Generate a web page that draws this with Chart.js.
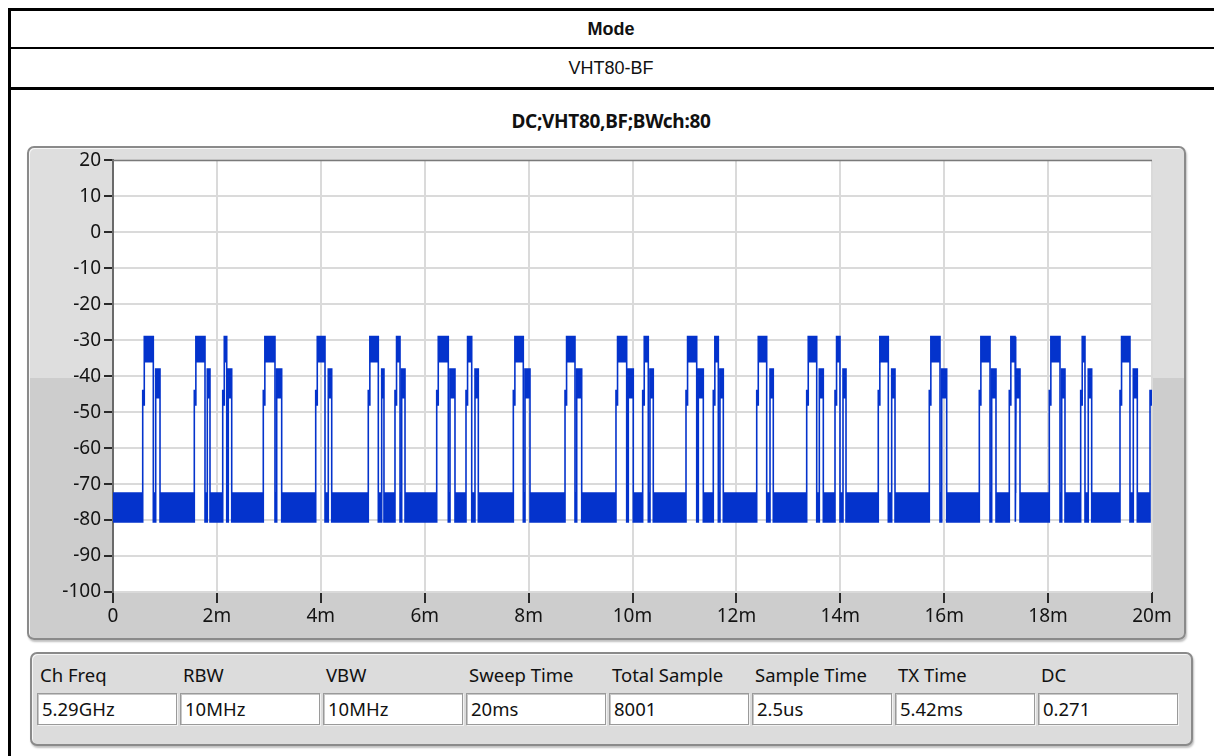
<!DOCTYPE html>
<html>
<head>
<meta charset="utf-8">
<script src="https://cdn.jsdelivr.net/npm/chart.js@4.4.0/dist/chart.umd.min.js"></script>
<style>
  html, body { margin: 0; padding: 0; background: #fff; }
  body { width: 1214px; height: 756px; position: relative; overflow: hidden; font-family: 'Noto Sans', sans-serif; color: #111; }
  .frame { position: absolute; left: 8px; top: 8px; width: 1230px; height: 770px; border-left: 3px solid #000; border-top: 3px solid #000; }
  .hline { position: absolute; left: 8px; width: 1220px; background: #000; }
  .cell { position: absolute; left: 11px; width: 1200px; text-align: center; font-family: 'Liberation Sans', Arial, sans-serif; font-size: 18px; }
  .title { position: absolute; left: 11px; width: 1200px; top: 109px; height: 24px; line-height: 24px; text-align: center; font-weight: bold; font-size: 19px; letter-spacing: -0.3px; }
  .panel { position: absolute; box-sizing: border-box; border: 2px solid #8a8a8a; border-radius: 7px; box-shadow: 1px 2px 2px rgba(0,0,0,.25), inset 1px 1px 0 #f6f6f6; }
  #graph { left: 27px; top: 146px; width: 1159px; height: 494px; background: linear-gradient(#dedede 0, #dedede 230px, #cdcdcd 230px); }
  #chartBox { position: absolute; left: 27px; top: 146px; width: 1159px; height: 494px; }
  #stats { left: 30px; top: 652px; width: 1163px; height: 94px; background: #dcdcdc; }
  .lbl { position: absolute; top: 662px; font-size: 18.5px; line-height: 26px; color: #111; }
  .box { position: absolute; top: 693px; width: 140px; height: 32px; box-sizing: border-box; background: #fff; border: 1px solid #9a9a9a; box-shadow: inset 1px 1px 0 #c8c8c8, 1px 1px 0 #f2f2f2; font-size: 18.5px; line-height: 30px; padding-left: 4px; color: #111; }
</style>
</head>
<body>
<div class="frame"></div>
<div class="hline" style="top:47px;height:2px"></div>
<div class="hline" style="top:87px;height:3px"></div>
<div class="cell" style="top:11px;height:37px;line-height:37px;font-weight:bold">Mode</div>
<div class="cell" style="top:50px;height:37px;line-height:37px">VHT80-BF</div>
<div class="title">DC;VHT80,BF;BWch:80</div>

<div class="panel" id="graph"></div>
<div id="chartBox"><canvas id="chartDC" width="1159" height="494"></canvas></div>
<div class="panel" id="stats"></div>

<script>
// bursts, times in ms
const burstRise = [0.572, 1.565, 2.112, 2.893, 3.902, 4.914, 5.428, 6.231, 6.795, 7.706, 8.701, 9.682, 10.196,
    11.030, 11.555, 12.391, 13.353, 13.898, 14.731, 15.713, 16.676, 17.253, 18.023, 18.627, 19.384]
const burstFall = [0.776, 1.771, 2.189, 3.118, 4.081, 5.107, 5.525, 6.454, 6.905, 7.898, 8.893, 9.888, 10.304,
    11.236, 11.652, 12.583, 13.546, 13.994, 14.924, 15.919, 16.882, 17.363, 18.229, 18.710, 19.576]
const ackStart = [0.822, 1.815, 2.219, 3.151, 4.144, 5.172, 5.557, 6.487, 6.968, 7.931, 8.926, 9.919, 10.337,
    11.267, 11.684, 12.647, 13.596, 14.052, 14.989, 15.952, 16.914, 17.382, 18.262, 18.773, 19.640]
const ackEnd = [0.905, 1.867, 2.285, 3.247, 4.210, 5.216, 5.621, 6.583, 7.032, 8.027, 9.022, 10.015, 10.400,
    11.363, 11.748, 12.710, 13.673, 14.110, 15.053, 16.048, 16.997, 17.459, 18.325, 18.839, 19.717]
const preambleTime = 0.03
const tailRise = 19.962
const sweepEnd = 20

// [min, max] of the trace in dBm for each state
const floorLevel = [-80.5, -72.5]
const preambleLevel = [-48, -44]
const burstLevel = [-36, -29]
const ackLevel = [-46, -38]

const yTicks = { min: -100, max: 20, step: 10 }
const xTicks = { min: 0, max: 20, step: 2 }

const statLabels = ['Ch Freq', 'RBW', 'VBW', 'Sweep Time', 'Total Sample', 'Sample Time', 'TX Time', 'DC']
const statValues = ['5.29GHz', '10MHz', '10MHz', '20ms', '8001', '2.5us', '5.42ms', '0.271']

// stat boxes
statLabels.forEach((l, i) => {
    const x = 37 + i * 143
    const lab = document.createElement('div')
    lab.className = 'lbl'
    lab.style.left = (x + 3) + 'px'
    lab.textContent = l
    document.body.appendChild(lab)
    const box = document.createElement('div')
    box.className = 'box'
    box.style.left = x + 'px'
    box.textContent = statValues[i]
    document.body.appendChild(box)
})

// trace envelope: max going right, min coming back
const upper = []
const lower = []
function band(t0, t1, lv) {
    upper.push({ x: t0, y: lv[1] }, { x: t1, y: lv[1] })
    lower.push({ x: t0, y: lv[0] }, { x: t1, y: lv[0] })
}
let t = 0
burstRise.forEach((r, i) => {
    band(t, r, floorLevel)
    band(r, r + preambleTime, preambleLevel)
    band(r + preambleTime, burstFall[i], burstLevel)
    band(burstFall[i], ackStart[i], floorLevel)
    band(ackStart[i], ackEnd[i], ackLevel)
    t = ackEnd[i]
})
band(t, tailRise, floorLevel)
band(tailRise, sweepEnd, preambleLevel)
const trace = upper.concat(lower.slice().reverse())

const plotBg = {
    id: 'plotBg',
    beforeDraw(chart) {
        const { ctx, chartArea: a } = chart
        ctx.save()
        ctx.fillStyle = '#fff'
        ctx.fillRect(a.left, a.top, a.right - a.left, a.bottom - a.top)
        ctx.restore()
    },
    afterDraw(chart) {
        const { ctx, chartArea: a } = chart
        ctx.save()
        ctx.strokeStyle = '#7a7a7a'
        ctx.lineWidth = 1.5
        ctx.beginPath()
        ctx.moveTo(a.left, a.top)
        ctx.lineTo(a.right, a.top)
        ctx.stroke()
        ctx.restore()
    }
}

const tickFont = { family: "'Noto Sans', sans-serif", size: 19 }

new Chart(document.getElementById('chartDC'), {
    type: 'line',
    data: {
        datasets: [{
            label: 'Power',
            data: trace,
            borderColor: '#0433cc',
            backgroundColor: '#0433cc',
            borderWidth: 1.6,
            pointRadius: 0,
            tension: 0,
            fill: 'shape'
        }]
    },
    options: {
        responsive: false,
        animation: false,
        layout: { padding: { top: 13, right: 34, left: 0, bottom: 0 } },
        scales: {
            x: {
                type: 'linear',
                min: xTicks.min,
                max: xTicks.max,
                afterFit: s => { s.height = 48 },
                ticks: {
                    stepSize: xTicks.step,
                    color: '#141414',
                    font: tickFont,
                    padding: 2,
                    maxRotation: 0,
                    callback: v => (v === 0 ? '0' : v + 'm')
                },
                grid: { color: '#dadada', lineWidth: 2, tickColor: '#2a2a2a', tickLength: 11, tickWidth: 2 },
                border: { display: false }
            },
            y: {
                min: yTicks.min,
                max: yTicks.max,
                afterFit: s => { s.width = 86 },
                ticks: { stepSize: yTicks.step, color: '#141414', font: tickFont, padding: 3 },
                grid: { color: '#dadada', lineWidth: 2, tickColor: '#2a2a2a', tickLength: 9, tickWidth: 2 },
                border: { color: '#6a6a6a', width: 2 }
            }
        },
        plugins: {
            legend: { display: false },
            tooltip: { enabled: false }
        }
    },
    plugins: [plotBg]
})
</script>
</body>
</html>
